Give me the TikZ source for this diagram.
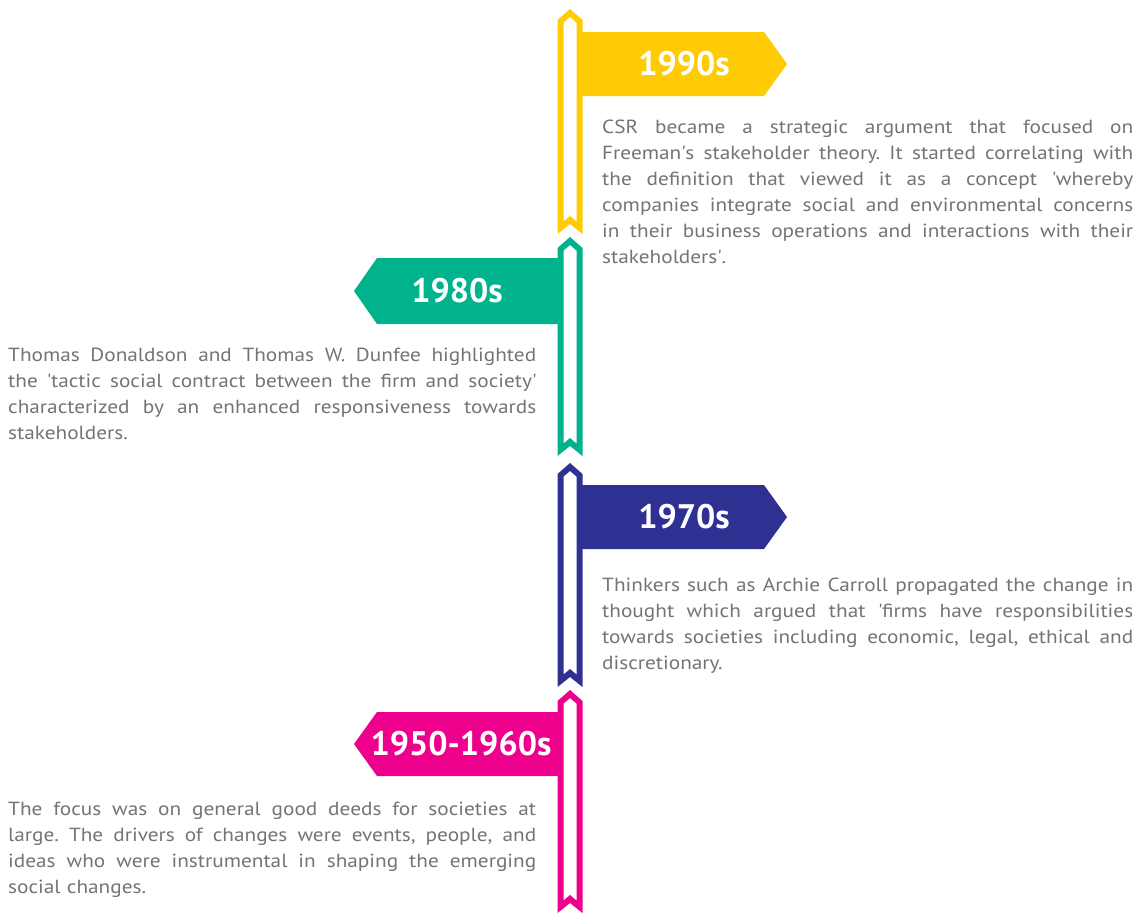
\documentclass[tikz,border=0pt]{standalone}
\usepackage{fontspec}
\setmainfont{PT Sans}
\newfontfamily\bodyfont[FakeStretch=1.12]{PT Sans}
\definecolor{cyel}{HTML}{FFCB05}
\definecolor{cgrn}{HTML}{00B38C}
\definecolor{cblu}{HTML}{2E3192}
\definecolor{cpnk}{HTML}{EC008C}
\definecolor{ctxt}{HTML}{737477}
\newcommand\sq{\textquotesingle}
\newcommand\jl[2][531pt]{{\spaceskip=0pt\xspaceskip=0pt\hbox to #1{#2}}}
% bar segment: colour, top, bottom
\newcommand\barseg[3]{%
  \path[fill=#1, even odd rule]
    (570,#2) -- (582.5,{#2+11}) -- (582.5,#3) -- (570,{#3-10}) -- (557.5,#3) -- (557.5,{#2+11}) -- cycle
    (570,{#2+8}) -- (576.5,{#2+13.5}) -- (576.5,{#3-12.5}) -- (570,{#3-18}) -- (563.5,{#3-12.5}) -- (563.5,{#2+13.5}) -- cycle;}
\begin{document}
\frenchspacing
\begin{tikzpicture}[x=1pt,y=-1pt,
  yeartxt/.style={text=white, inner sep=0pt, font=\fontsize{34}{40}\selectfont\bfseries},
  para/.style={text=ctxt, inner sep=0pt, text width=531pt, align=left,
     font=\bodyfont\fontsize{19}{26}\selectfont}]
\useasboundingbox (0,0) rectangle (1142,913);
\fill[white] (0,0) rectangle (1142,913);
% flags
\fill[cyel] (580,32) -- (764,32) -- (787,64) -- (764,96) -- (580,96) -- cycle;
\fill[cgrn] (560,258) -- (377,258) -- (354,291) -- (377,324) -- (560,324) -- cycle;
\fill[cblu] (580,485) -- (764,485) -- (787,517) -- (764,549) -- (580,549) -- cycle;
\fill[cpnk] (560,712) -- (377,712) -- (354,744) -- (377,776) -- (560,776) -- cycle;
% bar segments
\barseg{cyel}{9}{234}
\barseg{cgrn}{237}{456}
\barseg{cblu}{463}{687}
\barseg{cpnk}{690}{913}
% year labels
\node[yeartxt] (y1990) at (684,64) {1990s};
\node[yeartxt] (y1980) at (457,291) {1980s};
\node[yeartxt] (y1970) at (684,517) {1970s};
\node[yeartxt] (y1950) at (461,744) {1950-1960s};
% paragraphs
\node[para, anchor=base west] (p1990) at (602,133) {%
\jl{CSR became a strategic argument that focused on}
\jl{Freeman\sq s stakeholder theory. It started correlating with}
\jl{the definition that viewed it as a concept \sq whereby}
\jl{companies integrate social and environmental concerns}
\jl{in their business operations and interactions with their}
stakeholders\sq.};
\node[para, anchor=base west, text width=528pt] (p1980) at (8,361) {%
\jl[528pt]{Thomas Donaldson and Thomas W. Dunfee highlighted}
\jl[528pt]{the \sq tactic social contract between the firm and society\sq}
\jl[528pt]{characterized by an enhanced responsiveness towards}
stakeholders.};
\node[para, anchor=base west] (p1970) at (602,591) {%
\jl{Thinkers such as Archie Carroll propagated the change in}
\jl{thought which argued that \sq firms have responsibilities}
\jl{towards societies including economic, legal, ethical and}
discretionary.};
\node[para, anchor=base west, text width=528pt] (p1950) at (8,815) {%
\jl[528pt]{The focus was on general good deeds for societies at}
\jl[528pt]{large. The drivers of changes were events, people, and}
\jl[528pt]{ideas who were instrumental in shaping the emerging}
social changes.};
\end{tikzpicture}
\end{document}
